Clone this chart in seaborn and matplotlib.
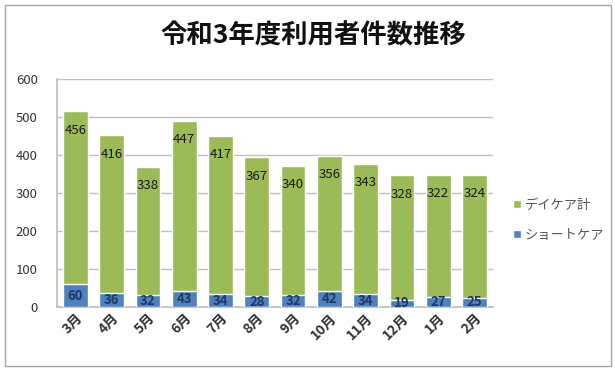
import matplotlib
matplotlib.use("Agg")
import matplotlib.pyplot as plt
from matplotlib.patches import Rectangle
import seaborn as sns
import pandas as pd

months = ["3月", "4月", "5月", "6月", "7月", "8月", "9月", "10月", "11月", "12月", "1月", "2月"]
daycare = [456, 416, 338, 447, 417, 367, 340, 356, 343, 328, 322, 324]
shortcare = [60, 36, 32, 43, 34, 28, 32, 42, 34, 19, 27, 25]
yticks = [0, 100, 200, 300, 400, 500, 600]

GREEN = "#9BBB59"
BLUE = "#4F81BD"

sns.set_theme(style="white")
plt.rcParams["font.family"] = ["Noto Sans CJK JP", "DejaVu Sans"]

df = pd.DataFrame({"month": months, "daycare": daycare, "shortcare": shortcare})
df["total"] = df["daycare"] + df["shortcare"]

fig = plt.figure(figsize=(6.15, 3.7), dpi=100)
ax = fig.add_axes([0.093, 0.17, 0.708, 0.616])

sns.barplot(data=df, x="month", y="total", color=GREEN, width=0.68,
            saturation=1, ax=ax, label="デイケア計", zorder=3)
sns.barplot(data=df, x="month", y="shortcare", color=BLUE, width=0.68,
            saturation=1, ax=ax, label="ショートケア", zorder=3)
if ax.get_legend() is not None:
    ax.get_legend().remove()

ax.set_ylim(0, 600)
ax.set_yticks(yticks)
ax.set_xlim(-0.5, len(months) - 0.5)
ax.yaxis.grid(True, color="#BFBFBF", linewidth=1.0, zorder=0)
ax.set_xlabel("")
ax.set_ylabel("")
for side in ["top", "right"]:
    ax.spines[side].set_visible(False)
ax.spines["left"].set_color("#BFBFBF")
ax.spines["bottom"].set_color("#BFBFBF")
ax.tick_params(axis="y", labelsize=9.5, colors="#333333", length=0, pad=14)
ax.tick_params(axis="x", labelsize=10, colors="#333333", length=0, pad=3)
for lbl in ax.get_xticklabels():
    lbl.set_rotation(45)
    lbl.set_ha("right")
    lbl.set_rotation_mode("anchor")
    lbl.set_fontweight("bold")

# value labels: day-care counts just below the top, short-care counts centred
for i, row in df.iterrows():
    ax.annotate(str(row["daycare"]), (i, row["total"]), xytext=(0, -19),
                textcoords="offset pixels", ha="center", va="center",
                fontsize=9.5, color="#1a1a1a", zorder=5)
    ax.annotate(str(row["shortcare"]), (i, row["shortcare"] / 2), ha="center",
                va="center", fontsize=9.5, fontweight="bold", color="#1F3864", zorder=5)

handles, labels = ax.get_legend_handles_labels()
fig.legend(handles, labels, loc="center left", bbox_to_anchor=(0.815, 0.405),
           frameon=False, fontsize=9.5, handlelength=0.6, handleheight=0.6,
           handletextpad=0.3, labelspacing=1.3, labelcolor="#555555")

fig.suptitle("令和3年度利用者件数推移", x=0.51, y=0.94, fontsize=19,
             fontweight="bold", color="#111111")

fig.patches.append(Rectangle((0.008, 0.012), 0.985, 0.975, transform=fig.transFigure,
                             fill=False, edgecolor="#A6A6A6", linewidth=1.0))

fig.savefig("out.png", dpi=100)
